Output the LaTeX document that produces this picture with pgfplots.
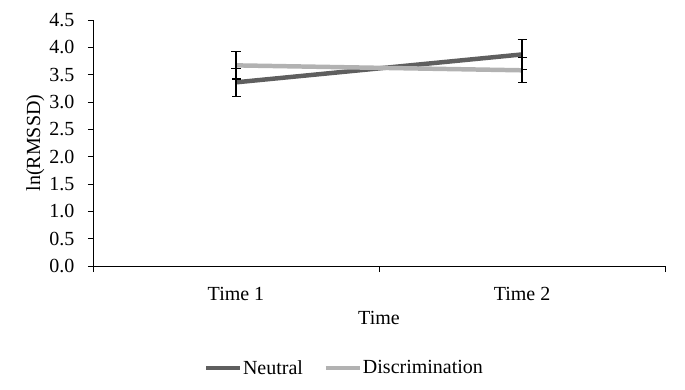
\documentclass[border=0pt]{standalone}
\usepackage{pgfplots}
\pgfplotsset{compat=1.18}
\usepackage{fontspec}
\setmainfont{Liberation Serif}
\definecolor{neut}{RGB}{95,95,95}
\definecolor{disc}{RGB}{178,178,178}
\begin{document}
\begin{tikzpicture}
\begin{axis}[
  name=ax,
  scale only axis,
  width=572bp, height=246bp,
  xmin=-0.5, xmax=1.5,
  ymin=0, ymax=4.5,
  ytick={0,0.5,...,4.5},
  /pgf/number format/assume math mode=true,
  xtick={0,1},
  xticklabels={Time 1, Time 2},
  minor xtick={-0.5,0.5,1.5},
  major x tick style={draw=none},
  minor tick length=6bp,
  major tick length=5bp,
  tick align=outside,
  axis x line*=bottom,
  axis y line*=left,
  axis line style={black, line width=0.8pt, -},
  tick style={black, line width=0.8pt},
  ticklabel style={font=\fontsize{20bp}{24bp}\selectfont},
  xticklabel style={anchor=base, yshift=-29bp},
  yticklabel style={anchor=east, xshift=-10bp, /pgf/number format/.cd, fixed, fixed zerofill, precision=1},
  label style={font=\fontsize{20bp}{24bp}\selectfont},
  xlabel={Time},
  xlabel style={at={(0.5,-0.2358)}, anchor=base},
  ylabel={ln(RMSSD)},
  ylabel style={at={(-0.101,0.5)}, anchor=center},
  legend columns=2,
  legend style={at={(0.4388,-0.415)}, anchor=center, draw=none, font=\fontsize{20bp}{24bp}\selectfont,
    inner sep=0pt,
    /tikz/every odd column/.append style={column sep=0bp},
    /tikz/every even column/.append style={column sep=20bp},
    nodes={inner xsep=1bp}},
  legend image code/.code={\draw[#1, line width=4pt] (0bp,0bp) -- (34bp,0bp);},
  clip=false,
]
\addplot[color=neut, line width=4.5pt, error bars/.cd, y dir=both, y explicit,
  error bar style={black, line width=1.2pt}, error mark options={black, line width=1.2pt, rotate=90, mark size=4.5bp}]
  coordinates {(0,3.36) +- (0,0.26) (1,3.87) +- (0,0.27)};
\addlegendentry{Neutral}
\addplot[color=disc, line width=4.5pt, error bars/.cd, y dir=both, y explicit,
  error bar style={black, line width=1.2pt}, error mark options={black, line width=1.2pt, rotate=90, mark size=4.5bp}]
  coordinates {(0,3.67) +- (0,0.25) (1,3.58) +- (0,0.23)};
\addlegendentry{Discrimination}
\end{axis}
\pgfresetboundingbox
\path (ax.south west) ++(-93bp,-124bp) rectangle ++(685bp,390bp);
\end{tikzpicture}
\end{document}
